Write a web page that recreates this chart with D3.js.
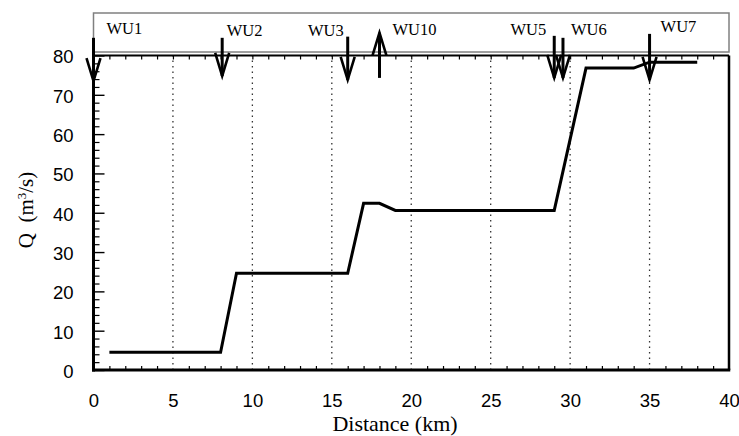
<!DOCTYPE html>
<html>
<head>
<meta charset="utf-8">
<script src="https://cdn.jsdelivr.net/npm/d3@7"></script>
<style>
  html, body { margin: 0; padding: 0; background: #fff; }
  svg { display: block; }
  .serif { font-family: "Liberation Serif", "Times New Roman", serif; }
  .sans { font-family: "Liberation Sans", Arial, sans-serif; }
</style>
</head>
<body>
<svg id="chart" width="739" height="436"></svg>
<script>
// ---------- data ----------
const distanceKm = [1, 8, 9, 16, 17, 18, 19, 29, 31, 34, 35, 38];
const flowQ      = [4.5, 4.5, 24.6, 24.6, 42.4, 42.4, 40.6, 40.6, 76.8, 76.8, 78.3, 78.3];

const userLabels = ["WU1", "WU2", "WU3", "WU10", "WU5", "WU6", "WU7"];
const userKm     = [0, 8.1, 16, 18, 29, 29.55, 35];
const arrowFromQ = [84.5, 84.5, 84.8, 74.3, 85.0, 84.5, 85.5];
const arrowToQ   = [73.5, 74.8, 73.8, 85.8, 74.3, 74.3, 73.8];

const xTickValues = [0, 5, 10, 15, 20, 25, 30, 35, 40];
const yTickValues = [0, 10, 20, 30, 40, 50, 60, 70, 80];

(function () {
// ---------- layout ----------
const pLeft = 93.5, pRight = 729, pTop = 55.5, pBottom = 370;
// label placement relative to arrow (dx px, anchor, baseline y)
const labelDx     = [13, 4.5, -4, 13, -8, 8, 11];
const labelAnchor = ["start", "start", "end", "start", "end", "start", "start"];
const labelY      = [33.5, 36, 36, 35, 35, 35, 32];

const svg = d3.select("#chart");
const x = d3.scaleLinear().domain([0, 40]).range([pLeft, pRight]);
const y = d3.scaleLinear().domain([0, 80]).range([pBottom, pTop]);

// header box
svg.append("rect")
  .attr("x", pLeft).attr("y", 13)
  .attr("width", pRight - pLeft).attr("height", 39)
  .attr("fill", "#fff").attr("stroke", "#808080").attr("stroke-width", 1.5);

// vertical dotted grid lines
svg.append("g").selectAll("line")
  .data(xTickValues.filter(v => v > 0 && v < 40))
  .join("line")
  .attr("x1", d => x(d)).attr("x2", d => x(d))
  .attr("y1", pBottom).attr("y2", pTop)
  .attr("stroke", "#333").attr("stroke-width", 1.3)
  .attr("stroke-dasharray", "1.5,4");

// minor ticks (inside)
const minorX = d3.range(1, 40).filter(v => v % 5 !== 0);
svg.append("g").attr("transform", `translate(0,${pBottom})`)
  .call(d3.axisBottom(x).tickValues(minorX).tickSize(-4).tickFormat(""))
  .call(g => g.select(".domain").remove())
  .call(g => g.selectAll("line").attr("stroke", "#000").attr("stroke-width", 1.2));
svg.append("g").attr("transform", `translate(0,${pTop})`)
  .call(d3.axisTop(x).tickValues(d3.range(1, 40)).tickSize(-4).tickFormat(""))
  .call(g => g.select(".domain").remove())
  .call(g => g.selectAll("line").attr("stroke", "#000").attr("stroke-width", 1.2));

svg.append("g").attr("transform", `translate(${pLeft},0)`)
  .call(d3.axisLeft(y).tickValues(d3.range(2, 80, 2).filter(v => v % 10 !== 0)).tickSize(-6).tickFormat(""))
  .call(g => g.select(".domain").remove())
  .call(g => g.selectAll("line").attr("stroke", "#000").attr("stroke-width", 1.2));
svg.append("g").attr("transform", `translate(${pLeft},0)`)
  .call(d3.axisLeft(y).tickValues(yTickValues).tickSize(-11).tickFormat(""))
  .call(g => g.select(".domain").remove())
  .call(g => g.selectAll("line").attr("stroke", "#000").attr("stroke-width", 1.4));

// tick labels
svg.append("g").attr("transform", `translate(0,${pBottom})`)
  .call(d3.axisBottom(x).tickValues(xTickValues).tickSize(0).tickPadding(24).tickFormat(d3.format("d")))
  .call(g => g.select(".domain").remove())
  .call(g => g.attr("font-family", null).attr("font-size", null))
  .call(g => g.selectAll("text").attr("class", "sans").style("font-size", "18.5px").attr("fill", "#000"));
svg.append("g").attr("transform", `translate(${pLeft},0)`)
  .call(d3.axisLeft(y).tickValues(yTickValues).tickSize(0).tickPadding(20).tickFormat(d3.format("d")))
  .call(g => g.select(".domain").remove())
  .call(g => g.attr("font-family", null).attr("font-size", null))
  .call(g => g.selectAll("text").attr("class", "sans").style("font-size", "18.5px").attr("fill", "#000").attr("dy", "0.4em"));

// plot frame
svg.append("line").attr("x1", pLeft).attr("x2", pRight).attr("y1", pTop).attr("y2", pTop)
  .attr("stroke", "#000").attr("stroke-width", 2);
svg.append("line").attr("x1", pRight).attr("x2", pRight).attr("y1", pTop).attr("y2", pBottom)
  .attr("stroke", "#000").attr("stroke-width", 2.5);
svg.append("line").attr("x1", pLeft).attr("x2", pLeft).attr("y1", pTop - 1).attr("y2", pBottom + 1.5)
  .attr("stroke", "#000").attr("stroke-width", 3);
svg.append("line").attr("x1", pLeft - 1.5).attr("x2", pRight + 1.25).attr("y1", pBottom).attr("y2", pBottom)
  .attr("stroke", "#000").attr("stroke-width", 3);

// flow line
const pts = distanceKm.map((d, i) => [d, flowQ[i]]);
svg.append("path")
  .datum(pts)
  .attr("fill", "none").attr("stroke", "#000").attr("stroke-width", 3)
  .attr("stroke-linejoin", "miter")
  .attr("d", d3.line().x(d => x(d[0])).y(d => y(d[1])));

// arrows
const headLen = 23, headHalf = 7;
const ag = svg.append("g");
userKm.forEach((km, i) => {
  const px = x(km);
  const y0 = y(arrowFromQ[i]), y1 = y(arrowToQ[i]);
  const dir = y1 > y0 ? 1 : -1;
  ag.append("line").attr("x1", px).attr("x2", px).attr("y1", y0).attr("y2", y1)
    .attr("stroke", "#000").attr("stroke-width", 3);
  ag.append("path")
    .attr("d", `M${px - headHalf},${y1 - dir * headLen}L${px},${y1}L${px + headHalf},${y1 - dir * headLen}`)
    .attr("fill", "none").attr("stroke", "#000").attr("stroke-width", 2.6)
    .attr("stroke-linejoin", "miter");
  svg.append("text")
    .attr("class", "serif")
    .attr("x", px + labelDx[i]).attr("y", labelY[i])
    .attr("text-anchor", labelAnchor[i])
    .style("font-size", "16.5px").attr("fill", "#000")
    .text(userLabels[i]);
});

// axis titles
svg.append("text")
  .attr("class", "serif")
  .attr("x", 395).attr("y", 431)
  .attr("text-anchor", "middle")
  .style("font-size", "22px").attr("fill", "#000")
  .text("Distance (km)");

const yt = svg.append("text")
  .attr("class", "serif")
  .attr("transform", "translate(33,210) rotate(-90)")
  .attr("text-anchor", "middle")
  .style("font-size", "21px").attr("fill", "#000");
yt.append("tspan").text("Q\u00A0\u00A0(m");
yt.append("tspan").attr("baseline-shift", "super").style("font-size", "13px").text("3");
yt.append("tspan").text("/s)");
})();
</script>
</body>
</html>
